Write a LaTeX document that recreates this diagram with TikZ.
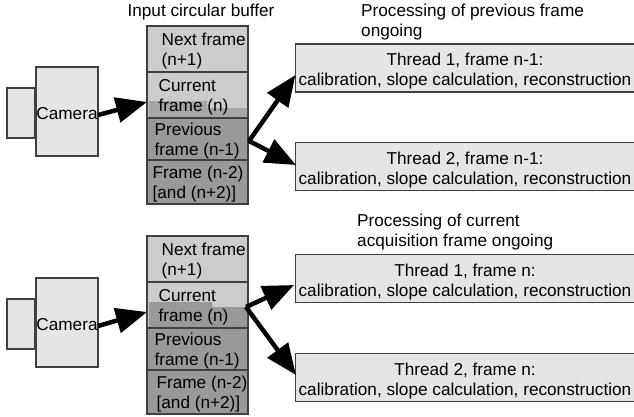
\documentclass[tikz,border=0pt]{standalone}
\usepackage{fontspec}
\setmainfont{Liberation Sans}
\usetikzlibrary{arrows.meta,positioning}
\newcommand{\threadlines}[1]{\rule{0pt}{19pt}#1\\calibration, slope calculation, reconstruction}
\tikzset{
  box/.style={draw=black!75,line width=1.2pt,fill=black!10,inner sep=0pt},
  cell/.style={box,minimum width=101pt},
  txt/.style={inner sep=0pt,align=left,yshift=-2pt,font=\fontsize{17.2}{20}\selectfont},
  thread/.style={box,minimum width=339pt,minimum height=48pt,align=center,font=\fontsize{17.2}{20}\selectfont},
  flow/.style={line width=4.5pt,-{Triangle[length=31pt,width=25pt]}}
}
\begin{document}
\begin{tikzpicture}[x=1pt,y=-1pt]
  \useasboundingbox (0,0) rectangle (634,416);

  % upper panel
  \node[box,minimum width=28pt,minimum height=50pt] (lensA) at (21,113) {};
  \node[box,minimum width=62pt,minimum height=89pt] (camA) at (67,111.5) {};
  \node[txt] at (camA) {Camera};
  \node[txt] (titleA) at (201,10) {Input circular buffer};
  \node[cell,fill=black!20,minimum height=46pt] (nextA) at (197.5,49) {};
  \node[cell,fill=black!20,minimum height=46pt] (currA) at (197.5,95) {};
  \fill[black!35] (149,101) -- (207,101) -- (207,108) -- (247,108) -- (247,117) -- (149,117) -- cycle;
  \node[cell,fill=black!40,minimum height=42pt] (prevA) at (197.5,139) {};
  \node[cell,fill=black!40,minimum height=44pt] (oldA) at (197.5,182) {};
  \node[txt,right=15pt of nextA.west] {Next frame\\(n+1)};
  \node[txt,right=12pt of currA.west] {Current\\frame (n)};
  \node[txt,right=8pt of prevA.west] {Previous\\frame (n-1)};
  \node[txt,right=6pt of oldA.west] {Frame (n-2)\\{[and (n+2)]}};
  \node[txt,anchor=west] (procA) at (361,20.5) {Processing of previous frame\\ongoing};
  \node[thread] (threadAa) at (465,68) {\threadlines{Thread 1, frame n-1:}};
  \node[thread] (threadAb) at (465,166.5) {\threadlines{Thread 2, frame n-1:}};
  \coordinate (forkA) at (249,141);
  \draw[flow] (98,115) -- (147,102);
  \draw[flow] (forkA) -- (295.5,75);
  \draw[flow] (forkA) -- (296,165);

  % lower panel
  \node[box,minimum width=28pt,minimum height=50pt] (lensB) at (21,324) {};
  \node[box,minimum width=62pt,minimum height=89pt] (camB) at (67,322.5) {};
  \node[txt] at (camB) {Camera};
  \node[cell,fill=black!20,minimum height=46pt] (nextB) at (197.5,259) {};
  \node[cell,fill=black!20,minimum height=46pt] (currB) at (197.5,305) {};
  \fill[black!40] (149,302) -- (212,302) -- (212,307) -- (247,307) -- (247,327) -- (149,327) -- cycle;
  \node[cell,fill=black!40,minimum height=42pt] (prevB) at (197.5,349) {};
  \node[cell,fill=black!40,minimum height=44pt] (oldB) at (197.5,392) {};
  \node[txt,right=15pt of nextB.west] {Next frame\\(n+1)};
  \node[txt,right=12pt of currB.west] {Current\\frame (n)};
  \node[txt,right=8pt of prevB.west] {Previous\\frame (n-1)};
  \node[txt,right=10pt of oldB.west] {Frame (n-2)\\{[and (n+2)]}};
  \node[txt,anchor=west] (procB) at (357,230.5) {Processing of current\\acquisition frame ongoing};
  \node[thread] (threadBa) at (465,278.5) {\threadlines{Thread 1, frame n:}};
  \node[thread] (threadBb) at (465,377.5) {\threadlines{Thread 2, frame n:}};
  \coordinate (forkB) at (246,307);
  \draw[flow] (98,326) -- (147,312);
  \draw[flow] (forkB) -- (294,285);
  \draw[flow] (forkB) -- (296,375);
\end{tikzpicture}
\end{document}
